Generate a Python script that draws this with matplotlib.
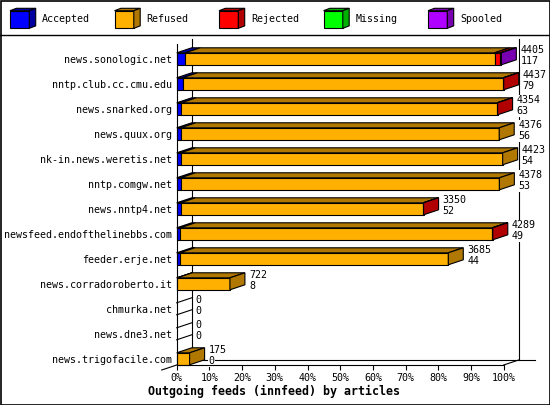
import matplotlib
matplotlib.use("Agg")
import matplotlib.pyplot as plt
from matplotlib.patches import Polygon

# innfeed outgoing feeds, per peer
HOSTS = [
    "news.sonologic.net",
    "nntp.club.cc.cmu.edu",
    "news.snarked.org",
    "news.quux.org",
    "nk-in.news.weretis.net",
    "nntp.comgw.net",
    "news.nntp4.net",
    "newsfeed.endofthelinebbs.com",
    "feeder.erje.net",
    "news.corradoroberto.it",
    "chmurka.net",
    "news.dne3.net",
    "news.trigofacile.com",
]
OFFERED = [4405, 4437, 4354, 4376, 4423, 4378, 3350, 4289, 3685, 722, 0, 0, 175]
ACCEPTED = [117, 79, 63, 56, 54, 53, 52, 49, 44, 8, 0, 0, 0]
REFUSED = [4196, 4350, 4285, 4320, 4369, 4325, 3293, 4232, 3641, 714, 0, 0, 175]
REJECTED = [80, 8, 6, 0, 0, 0, 5, 8, 0, 0, 0, 0, 0]
MISSING = [0, 0, 0, 0, 0, 0, 0, 0, 0, 0, 0, 0, 0]
SPOOLED = [12, 0, 0, 0, 0, 0, 0, 0, 0, 0, 0, 0, 0]

SERIES = ["Accepted", "Refused", "Rejected", "Missing", "Spooled"]
FRONT = ["#0000ff", "#ffb000", "#ff0000", "#00ff00", "#b000ff"]
SIDE = ["#0000a0", "#b07800", "#b00000", "#00b000", "#7800b0"]

W, H = 550, 405
MONO = "DejaVu Sans Mono"
FS = 7.2
LW = 0.8

fig = plt.figure(figsize=(W / 100, H / 100), dpi=100)
fig.patch.set_facecolor("white")

# chart area: x in percent of the biggest peer, y in rows (25 px each)
x0_px, x1_px = 176.7, 503.7
row0_px, row_px = 58.8, 25.0
top_px, bot_px = 44.0, 365.0
ax = fig.add_axes([x0_px / W, 1 - bot_px / H, (x1_px - x0_px) / W, (bot_px - top_px) / H])
y_top = (top_px - row0_px) / row_px
y_bot = (bot_px - row0_px) / row_px
ax.set_xlim(0, 100)
ax.set_ylim(y_bot, y_top)

PX = 100 / (x1_px - x0_px)
DX = 15 * PX
DY = -5 / row_px
HALF = 6 / row_px


def poly(pts, fc, z=3):
    ax.add_patch(Polygon(pts, closed=True, facecolor=fc, edgecolor="black",
                         linewidth=LW, zorder=z, clip_on=False, fill=fc is not None))


# back walls of the pseudo 3D frame
line_kw = dict(color="black", linewidth=LW, clip_on=False, zorder=1)
ax.plot([DX, DX], [y_top + DY, y_bot + DY], **line_kw)
ax.plot([100 + DX, 100 + DX], [y_top + DY, y_bot + DY], **line_kw)
ax.plot([DX, 100 + DX + 16 * PX], [y_bot + DY, y_bot + DY], **line_kw)
ax.plot([100, 100 + DX], [y_bot, y_bot + DY], **line_kw)
ax.plot([-DX, DX], [y_bot - DY, y_bot + DY], **line_kw)

scale = 100 / max(OFFERED)
columns = [ACCEPTED, REFUSED, REJECTED, MISSING, SPOOLED]
for i in range(len(HOSTS)):
    left = 0.0
    last = None
    yt, yb = i - HALF, i + HALF
    for k, col in enumerate(columns):
        v = col[i]
        if v <= 0:
            continue
        right = left + v * scale
        poly([(left, yt), (right, yt), (right, yb), (left, yb)], FRONT[k])
        poly([(left, yt), (right, yt), (right + DX, yt + DY), (left + DX, yt + DY)], SIDE[k])
        left = right
        last = k
    if last is None:
        # empty peer: only the two receding edges show
        ax.plot([0, DX], [yt, yt + DY], color="black", linewidth=LW, zorder=3, clip_on=False)
        ax.plot([0, DX], [yb, yb + DY], color="black", linewidth=LW, zorder=3, clip_on=False)
    else:
        poly([(left, yt), (left + DX, yt + DY), (left + DX, yb + DY), (left, yb)], SIDE[last])

    txt_kw = dict(textcoords="offset pixels", ha="left", va="center", fontsize=FS,
                  family=MONO, annotation_clip=False, zorder=4,
                  bbox=dict(boxstyle="square,pad=0.05", facecolor="white", edgecolor="none"))
    ax.annotate(str(OFFERED[i]), xy=(left + DX, i), xytext=(4, 8.5), **txt_kw)
    ax.annotate(str(ACCEPTED[i]), xy=(left + DX, i), xytext=(4, -2.5), **txt_kw)

ax.set_facecolor("none")
for side in ("top", "right"):
    ax.spines[side].set_visible(False)
for side in ("left", "bottom"):
    ax.spines[side].set_linewidth(LW)
    ax.spines[side].set_zorder(5)

ticks = list(range(0, 101, 10))
ax.set_xticks(ticks)
ax.set_xticklabels([f"{t}%" for t in ticks], family=MONO, fontsize=FS)
ax.tick_params(axis="x", direction="out", length=3.6, width=LW, pad=2.2)
ax.set_yticks(range(len(HOSTS)))
ax.set_yticklabels(HOSTS, family=MONO, fontsize=FS)
ax.tick_params(axis="y", length=0, pad=3.4)

fig.text(274 / W, 1 - 391 / H, "Outgoing feeds (innfeed) by articles", ha="center",
         va="center", family=MONO, fontsize=8.4, fontweight="bold")

# legend strip and outer frame, in pixel coordinates
ov = fig.add_axes([0, 0, 1, 1], zorder=-1)
ov.set_xlim(0, W)
ov.set_ylim(H, 0)
ov.axis("off")
ov.plot([0, W], [35, 35], color="black", linewidth=1.0)
ov.add_patch(Polygon([(0.5, 0.5), (W - 0.5, 0.5), (W - 0.5, H - 0.5), (0.5, H - 0.5)],
                     closed=True, fill=False, edgecolor="black", linewidth=1.2))
for k, name in enumerate(SERIES):
    lx = 10 + 104.5 * k
    fw, ft, fb, d, e = 19.3, 10.7, 28.3, 6.4, 2.4
    kw = dict(closed=True, edgecolor="black", linewidth=LW)
    ov.add_patch(Polygon([(lx, ft), (lx + fw, ft), (lx + fw, fb), (lx, fb)], facecolor=FRONT[k], **kw))
    ov.add_patch(Polygon([(lx, ft), (lx + d, ft - e), (lx + fw + d, ft - e), (lx + fw, ft)],
                         facecolor=SIDE[k], **kw))
    ov.add_patch(Polygon([(lx + fw, ft), (lx + fw + d, ft - e), (lx + fw + d, fb - e), (lx + fw, fb)],
                         facecolor=SIDE[k], **kw))
    ov.text(lx + 32, 19.5, name, ha="left", va="center", family=MONO, fontsize=FS)

fig.savefig("out.png", dpi=100)
